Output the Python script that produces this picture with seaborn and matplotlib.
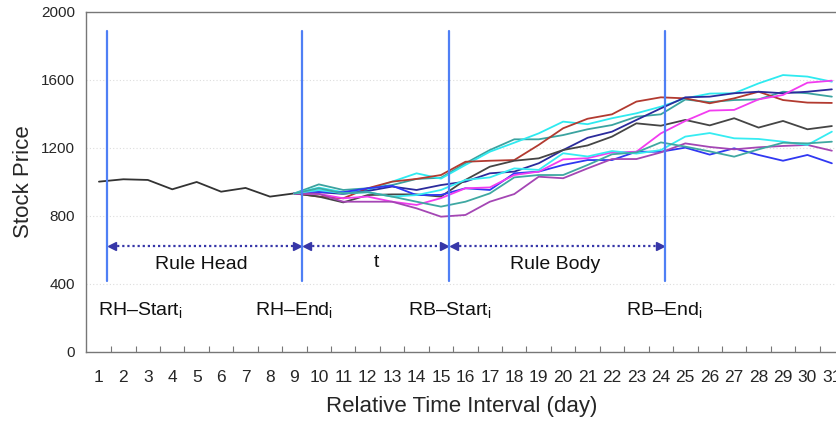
import numpy as np
import pandas as pd
import matplotlib
matplotlib.use("Agg")
import matplotlib.pyplot as plt
from matplotlib import font_manager
import seaborn as sns

# ---- data -------------------------------------------------------------
head_days = list(range(1, 10))
head_price = [1002, 1016, 1012, 957, 1000, 943, 965, 914, 933]

body_days = list(range(9, 32))
teal_a = [933, 986, 953, 963, 982, 1018, 1025, 1110, 1188, 1251, 1251, 1276,
          1310, 1335, 1384, 1398, 1485, 1470, 1482, 1486, 1531, 1522, 1502]
cyan_a = [933, 967, 940, 953, 1002, 1051, 1020, 1100, 1178, 1231, 1286, 1355,
          1340, 1375, 1404, 1443, 1492, 1520, 1522, 1580, 1629, 1620, 1590]
red = [933, 914, 904, 963, 1002, 1018, 1041, 1119, 1125, 1129, 1218, 1316,
       1372, 1398, 1473, 1498, 1492, 1463, 1492, 1531, 1482, 1467, 1465]
navy = [933, 940, 930, 947, 973, 953, 982, 1002, 1051, 1061, 1110, 1188,
        1260, 1296, 1365, 1433, 1498, 1502, 1522, 1531, 1522, 1531, 1545]
gray = [933, 914, 880, 923, 927, 927, 914, 1012, 1090, 1125, 1139, 1188,
        1215, 1267, 1345, 1331, 1365, 1333, 1375, 1320, 1359, 1310, 1329]
blue = [933, 940, 940, 963, 978, 923, 924, 963, 953, 1051, 1061, 1100,
        1129, 1129, 1178, 1178, 1202, 1161, 1198, 1159, 1125, 1159, 1110]
magenta = [933, 930, 904, 914, 884, 865, 905, 963, 968, 1041, 1061, 1133,
           1140, 1174, 1178, 1286, 1359, 1420, 1424, 1486, 1512, 1584, 1596]
purple = [933, 930, 884, 884, 884, 845, 796, 806, 884, 929, 1031, 1022,
          1080, 1135, 1135, 1174, 1227, 1206, 1192, 1204, 1212, 1218, 1184]
cyan_b = [933, 953, 933, 940, 914, 923, 953, 1012, 1027, 1080, 1071, 1169,
          1150, 1182, 1167, 1188, 1267, 1288, 1257, 1253, 1237, 1218, 1296]
teal_b = [933, 963, 933, 940, 914, 884, 855, 884, 933, 1027, 1041, 1041,
          1100, 1163, 1174, 1233, 1208, 1180, 1149, 1192, 1231, 1227, 1237]

tick_days = list(range(1, 32))
y_ticks = [0, 400, 800, 1200, 1600, 2000]

# ---- styling ----------------------------------------------------------
sns.set_style("white")
names = {f.name for f in font_manager.fontManager.ttflist}
narrow = "Liberation Sans Narrow" if "Liberation Sans Narrow" in names else "Liberation Sans"
plt.rcParams["font.family"] = ["Liberation Sans", "DejaVu Sans"]
plt.rcParams["mathtext.fontset"] = "custom"
plt.rcParams["mathtext.rm"] = narrow
plt.rcParams["mathtext.it"] = narrow

palette = {
    "head": "#333333",
    "teal_a": "#3BA3A0",
    "cyan_a": "#2EEAF0",
    "red": "#B23A30",
    "navy": "#2B2B9C",
    "gray": "#454545",
    "blue": "#3038F2",
    "magenta": "#F23CF0",
    "purple": "#A446B4",
    "cyan_b": "#36ECF2",
    "teal_b": "#3FA8A2",
}

frames = [pd.DataFrame({"day": head_days, "price": head_price, "series": "head"})]
for key, vals in [("teal_a", teal_a), ("cyan_a", cyan_a), ("red", red),
                  ("navy", navy), ("gray", gray), ("blue", blue),
                  ("magenta", magenta), ("purple", purple),
                  ("cyan_b", cyan_b), ("teal_b", teal_b)]:
    frames.append(pd.DataFrame({"day": body_days, "price": vals, "series": key}))
df = pd.concat(frames, ignore_index=True)

fig = plt.figure(figsize=(8.37, 4.22), dpi=100)
ax = fig.add_axes([0.1027, 0.1659, 0.8973, 0.8057])

sns.lineplot(data=df, x="day", y="price", hue="series", palette=palette,
             estimator=None, sort=False, legend=False, linewidth=1.3, ax=ax)

ax.set_xlim(0.468, 31.21)
ax.set_ylim(0, 2000)

# axes frame
for side in ["left", "bottom", "top"]:
    ax.spines[side].set_color("#777777")
    ax.spines[side].set_linewidth(1.0)
ax.spines["right"].set_visible(False)

ax.set_yticks(y_ticks)
ax.set_yticklabels([str(v) for v in y_ticks], fontsize=11)
ax.tick_params(axis="y", direction="out", length=5, width=0.8, color="#777777", pad=3)
ax.yaxis.grid(True, linestyle=(0, (1, 2)), color="#dddddd", linewidth=0.8)

ax.set_xticks(tick_days)
ax.set_xticklabels([str(d) for d in tick_days], fontsize=12.5, family=[narrow])
ax.set_xticks([d + 0.5 for d in tick_days[:-1]], minor=True)
ax.tick_params(axis="x", which="major", length=0, pad=13)
ax.tick_params(axis="x", which="minor", direction="in", length=4, width=0.8,
               color="#777777", bottom=True)

ax.set_xlabel("Relative Time Interval (day)", fontsize=16, family=[narrow], labelpad=8)
ax.set_ylabel("Stock Price", fontsize=16, labelpad=5)

# rule boundaries
bounds = [1.32, 9.3, 15.33, 24.16]
for b in bounds:
    ax.plot([b, b], [420, 1890], color="#4F7FF5", linewidth=1.6, zorder=3)

# span arrows
arrow_y = 622
arrow_col = "#3636A8"
for a, b in zip(bounds[:-1], bounds[1:]):
    ax.plot([a + 0.2, b - 0.2], [arrow_y, arrow_y], color=arrow_col,
            linestyle=(0, (1, 1.3)), linewidth=1.6)
    ax.plot([a + 0.2], [arrow_y], marker="<", color=arrow_col, markersize=5.5)
    ax.plot([b - 0.2], [arrow_y], marker=">", color=arrow_col, markersize=5.5)

span_kw = dict(fontsize=14, family=[narrow], ha="center", va="center", color="#111111")
ax.text(5.2, 515, "Rule Head", **span_kw)
ax.text(12.36, 525, "t", **span_kw)
ax.text(19.69, 515, "Rule Body", **span_kw)

mark_kw = dict(fontsize=14, family=[narrow], ha="center", va="center", color="#111111")
ax.text(2.68, 245, "RH\u2013Start$_{\\mathregular{i}}$", **mark_kw)
ax.text(8.97, 245, "RH\u2013End$_{\\mathregular{i}}$", **mark_kw)
ax.text(15.37, 245, "RB\u2013Start$_{\\mathregular{i}}$", **mark_kw)
ax.text(24.13, 245, "RB\u2013End$_{\\mathregular{i}}$", **mark_kw)

fig.savefig("out.png", dpi=100)
